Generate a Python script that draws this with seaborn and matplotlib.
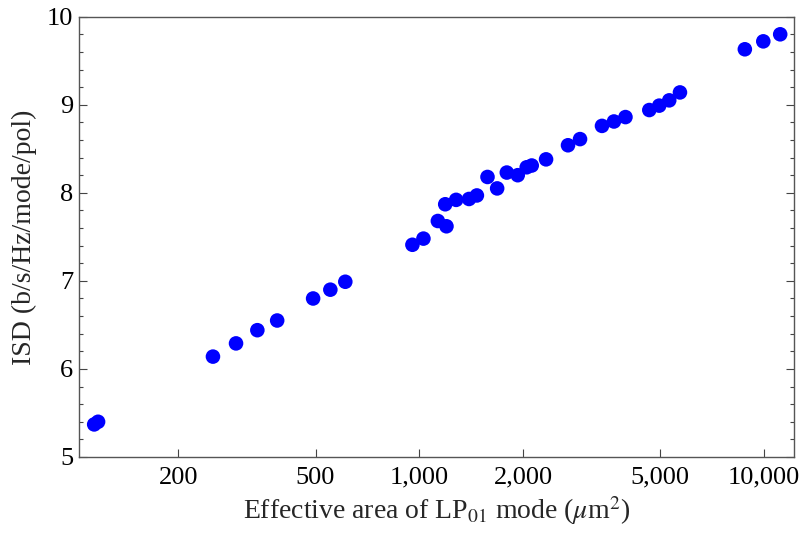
import numpy as np
import pandas as pd
import matplotlib
matplotlib.use("Agg")
import matplotlib.pyplot as plt
import seaborn as sns
from matplotlib.ticker import FixedLocator, MultipleLocator

# Data
area = [114, 117, 252, 294, 339, 387, 492, 552, 610,
        955, 1028, 1132, 1199, 1189, 1279, 1394, 1469, 1577, 1682,
        1794, 1930, 2049, 2119, 2332, 2700, 2926, 3388, 3670, 3963,
        4647, 4966, 5309, 5703, 8797, 9950, 11140]
isd = [5.37, 5.40, 6.14, 6.29, 6.44, 6.55, 6.80, 6.90, 6.99,
       7.41, 7.48, 7.68, 7.62, 7.87, 7.92, 7.93, 7.97, 8.18, 8.05,
       8.23, 8.20, 8.29, 8.31, 8.38, 8.54, 8.61, 8.76, 8.81, 8.86,
       8.94, 8.99, 9.05, 9.14, 9.63, 9.72, 9.80]

xticks = [200, 500, 1000, 2000, 5000, 10000]
xticklabels = ["200", "500", "1,000", "2,000", "5,000", "10,000"]
yticks = [5, 6, 7, 8, 9, 10]

df = pd.DataFrame({"area": area, "isd": isd})

sns.set_style("ticks")
plt.rcParams['font.family'] = ['Liberation Serif', 'DejaVu Serif']
plt.rcParams['mathtext.fontset'] = 'stix'

fig = plt.figure(figsize=(8, 5.35), dpi=100)
ax = fig.add_axes([0.09875, 0.1458, 0.8932, 0.823])

sns.scatterplot(data=df, x="area", y="isd", ax=ax, color="#0000ff",
                s=110, edgecolor="none", linewidth=0, zorder=3)

ax.set_xscale("log")
ax.set_xlim(103, 12180)
ax.set_ylim(5, 10)

ax.xaxis.set_major_locator(FixedLocator(xticks))
ax.set_xticklabels(xticklabels)
ax.xaxis.set_minor_locator(FixedLocator([]))
ax.set_yticks(yticks)
ax.yaxis.set_minor_locator(MultipleLocator(0.2))

ax.tick_params(axis="both", which="both", direction="in", color="#444444",
               labelsize=19, labelcolor="black")
ax.tick_params(axis="y", which="both", left=True, right=True, pad=4)
ax.tick_params(axis="x", which="both", top=False, pad=7)
ax.tick_params(which="major", length=6, width=0.8)
ax.tick_params(which="minor", length=3, width=0.8)

for sp in ax.spines.values():
    sp.set_visible(True)
    sp.set_color("#555555")
    sp.set_linewidth(1.0)

ax.set_xlabel("Effective area of LP$_{01}$ mode ($\\mu$m$^2$)", fontsize=20, labelpad=4)
ax.set_ylabel("ISD (b/s/Hz/mode/pol)", fontsize=20, labelpad=7)

fig.savefig("out.png", dpi=100, facecolor="white")
